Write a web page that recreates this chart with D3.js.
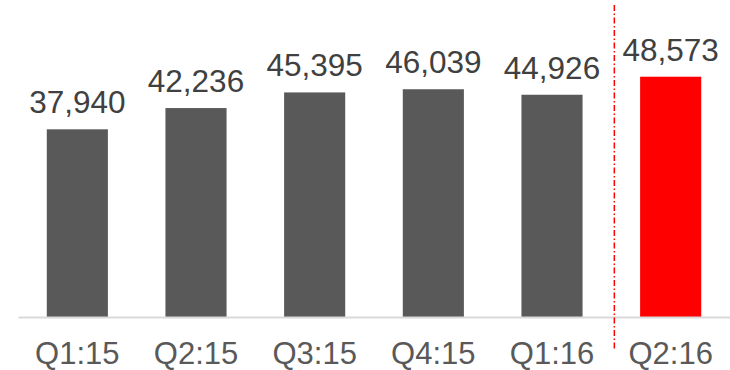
<!DOCTYPE html>
<html lang="en">
<head>
    <meta charset="UTF-8">
    <title>Quarterly bars</title>
    <script src="https://d3js.org/d3.v7.min.js"></script>
    <style>
        body { margin: 0; background: #fff; }
        svg { display: block; font-family: Arial, "Liberation Sans", sans-serif; }
    </style>
</head>
<body>
    <svg width="730" height="370"></svg>
    <script>

// Chart data
const quarters = ["Q1:15", "Q2:15", "Q3:15", "Q4:15", "Q1:16", "Q2:16"];
const values = [37940, 42236, 45395, 46039, 44926, 48573];
const highlighted = ["Q2:16"];

const svg = d3.select("svg");
const baseline = 317;

const x = d3.scaleBand()
    .domain(quarters)
    .range([18, 730])
    .paddingInner(0.485)
    .paddingOuter(0.2425);

const y = d3.scaleLinear()
    .domain([0, 60000])
    .range([baseline, baseline - 0.004947 * 60000]);

const data = quarters.map((q, i) => ({ quarter: q, value: values[i] }));

// bars
svg.selectAll(".bar")
    .data(data)
    .enter().append("rect")
    .attr("class", "bar")
    .attr("x", d => x(d.quarter))
    .attr("y", d => y(d.value))
    .attr("width", x.bandwidth())
    .attr("height", d => baseline - y(d.value))
    .attr("fill", d => highlighted.includes(d.quarter) ? "#ff0000" : "#595959");

// value labels
svg.selectAll(".val")
    .data(data)
    .enter().append("text")
    .attr("class", "val")
    .attr("x", d => x(d.quarter) + x.bandwidth() / 2)
    .attr("y", d => y(d.value) - 16)
    .attr("text-anchor", "middle")
    .attr("font-size", 31.5)
    .attr("fill", "#404040")
    .text(d => d3.format(",")(d.value));

// x axis
const xAxis = svg.append("g")
    .attr("transform", `translate(0,${baseline})`)
    .call(d3.axisBottom(x).tickSize(0).tickPadding(25));

xAxis.select(".domain")
    .attr("stroke", "#d9d9d9")
    .attr("stroke-width", 2);

xAxis.selectAll("text")
    .attr("font-size", 31)
    .attr("font-family", "Arial, 'Liberation Sans', sans-serif")
    .attr("fill", "#595959");

// separator before the latest quarter
const step = x.step();
const sepX = x("Q2:16") - step * x.paddingInner() / 2 + 3;
svg.append("line")
    .attr("x1", sepX)
    .attr("x2", sepX)
    .attr("y1", 5)
    .attr("y2", 349)
    .attr("stroke", "#ff0000")
    .attr("stroke-width", 1.5)
    .attr("stroke-dasharray", "6,2.5,1.5,2.5");

    </script>
</body>
</html>
